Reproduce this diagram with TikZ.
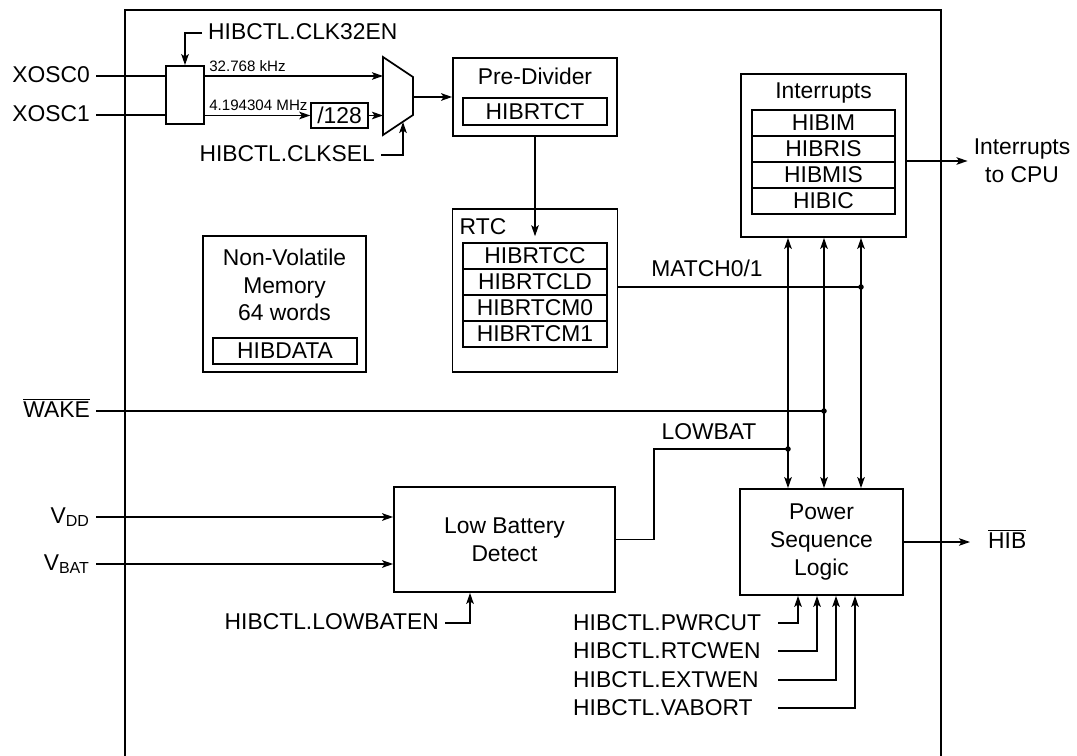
\documentclass[tikz,border=0pt]{standalone}
\usepackage{fontspec}
\setmainfont{Liberation Sans}
\usetikzlibrary{arrows.meta}
\tikzset{
  blk/.style={draw, line width=1pt, align=center, inner sep=0pt},
  reg/.style={draw, line width=0.8pt, minimum width=2.88cm, minimum height=0.52cm, inner sep=0pt},
  lbl/.style={align=center, text height=1.8ex, text depth=0.5ex},
  freq/.style={font=\fontsize{8.6}{10}\selectfont, inner sep=2pt},
  wire/.style={line width=1pt},
  sig/.style={-{Stealth[length=2.2mm, width=1.5mm, inset=0.5mm]}, line width=1pt},
  bidir/.style={{Stealth[length=2.2mm, width=1.5mm, inset=0.5mm]}-{Stealth[length=2.2mm, width=1.5mm, inset=0.5mm]}, line width=1pt}
}

\begin{document}
\begin{tikzpicture}[x=0.02cm, y=-0.02cm, font=\fontsize{13}{15.8}\selectfont]
  \useasboundingbox (0,0) rectangle (1077,756);
  % hibernation module outline
  \draw[wire] (125,756) -- (125,10) -- (941,10) -- (941,756);

  % clock source
  \node[blk, minimum width=0.76cm, minimum height=1.16cm] (sel) at (185,95) {};
  \node[lbl, anchor=east] (xosc0) at (96,76) {XOSC0};
  \node[lbl, anchor=east] (xosc1) at (96,115) {XOSC1};
  \draw[wire] (xosc0.east) -- (xosc0.east -| sel.west);
  \draw[wire] (xosc1.east) -- (xosc1.east -| sel.west);
  \node[lbl, anchor=west] (clken) at (202,33) {HIBCTL.CLK32EN};
  \draw[sig] (clken.west) -| (sel.north);

  \node[blk, line width=0.8pt, minimum width=1.14cm, minimum height=0.5cm] (div) at (339.5,115.5) {/128};

  % clock mux
  \draw[wire] (383,57) -- (413,77) -- (413,115) -- (383,135) -- cycle;
  \coordinate (muxin0) at (383,76);
  \coordinate (muxin1) at (383,115.5);
  \coordinate (muxout) at (413,97);
  \coordinate (muxsel) at (403,122);

  \draw[sig] (sel.east |- muxin0) -- node[freq, anchor=south west, pos=0] {32.768 kHz} (muxin0);
  \draw[sig] (sel.east |- div.west) -- node[freq, anchor=south west, pos=0] {4.194304 MHz} (div.west);
  \draw[sig] (div.east) -- (muxin1);
  \node[lbl, anchor=east] (clksel) at (381,155) {HIBCTL.CLKSEL};
  \draw[sig] (clksel.east) -| (muxsel);

  % pre-divider
  \node[blk, minimum width=3.28cm, minimum height=1.56cm] (pre) at (535,97) {};
  \node[lbl] (pretitle) at (535,78) {Pre-Divider};
  \node[reg, minimum height=0.54cm] (rtct) at (535,111.5) {HIBRTCT};
  \draw[sig] (muxout) -- (muxout -| pre.west);

  % RTC
  \node[blk, minimum width=3.3cm, minimum height=3.26cm] (rtc) at (535,290.5) {};
  \node[lbl] (rtctitle) at (483,228) {RTC};
  \node[reg] (rtcc) at (535,256) {HIBRTCC};
  \node[reg] (rtcld) at (535,282) {HIBRTCLD};
  \node[reg] (rtcm0) at (535,308) {HIBRTCM0};
  \node[reg] (rtcm1) at (535,334) {HIBRTCM1};
  \draw[sig] (pre.south) -- ([yshift=0.12cm]rtcc.north);

  % battery-backed memory
  \node[blk, minimum width=3.26cm, minimum height=2.72cm] (nvm) at (284.5,304) {};
  \node[align=center] (nvmtxt) at (284.5,285) {Non-Volatile\\Memory\\64 words};
  \node[reg] (hibdata) at (285,351) {HIBDATA};

  % interrupts
  \node[blk, minimum width=3.3cm, minimum height=3.26cm] (intr) at (823.5,155.5) {};
  \node[lbl] (intrtitle) at (823.5,92) {Interrupts};
  \node[reg, minimum width=2.86cm] (him) at (823.5,123) {HIBIM};
  \node[reg, minimum width=2.86cm] (hris) at (823.5,149) {HIBRIS};
  \node[reg, minimum width=2.86cm] (hmis) at (823.5,175) {HIBMIS};
  \node[reg, minimum width=2.86cm] (hic) at (823.5,201) {HIBIC};
  \node[align=center] (cpu) at (1022,161) {Interrupts\\to CPU};
  \draw[sig] (cpu.west -| intr.east) -- (cpu.west);

  % low battery detect
  \node[blk, minimum width=4.42cm, minimum height=2.1cm] (lbd) at (504.5,539.5) {Low Battery\\Detect};
  \node[lbl, anchor=east] (vdd) at (96,517) {V\textsubscript{DD}};
  \node[lbl, anchor=east] (vbat) at (96,564) {V\textsubscript{BAT}};
  \draw[sig] (vdd.east) -- (vdd.east -| lbd.west);
  \draw[sig] (vbat.east) -- (vbat.east -| lbd.west);
  \node[lbl, anchor=east] (lowen) at (445,623) {HIBCTL.LOWBATEN};
  \draw[sig] (lowen.east) -| ([xshift=-0.69cm]lbd.south);

  % power sequencer
  \node[blk, minimum width=3.26cm, minimum height=2.12cm] (psl) at (821.5,542) {Power\\Sequence\\Logic};
  \node[lbl, anchor=west] (hib) at (982,542) {$\overline{\hbox{HIB}}$};
  \draw[sig] (psl.east) -- ([xshift=-0.24cm]hib.west);

  % event taps
  \coordinate (mt) at (861,287);
  \coordinate (wk) at (824,411);
  \coordinate (lb) at (788,449);
  \draw[bidir] (lb |- intr.south) -- (lb |- psl.north);
  \draw[bidir] (wk |- intr.south) -- (wk |- psl.north);
  \draw[bidir] (mt |- intr.south) -- (mt |- psl.north);

  \node[lbl] (matchlbl) at (707,270) {MATCH0/1};
  \draw[wire] (rtc.east |- mt) -- (mt);
  \node[lbl, anchor=east] (wake) at (96,411) {$\overline{\hbox{WAKE}}$};
  \draw[wire] (wake.east) -- (wk);
  \node[lbl] (lowlbl) at (709,433) {LOWBAT};
  \draw[wire] (lbd.east) -- ++(38,0) |- (lb);
  \fill (mt) circle (0.055cm);
  \fill (wk) circle (0.055cm);
  \fill (lb) circle (0.055cm);

  % control bits into the sequencer
  \node[lbl, anchor=west] (pwrcut) at (567,624) {HIBCTL.PWRCUT};
  \node[lbl, anchor=west] (rtcwen) at (567,652) {HIBCTL.RTCWEN};
  \node[lbl, anchor=west] (extwen) at (567,681) {HIBCTL.EXTWEN};
  \node[lbl, anchor=west] (vabort) at (567,709) {HIBCTL.VABORT};
  \coordinate (pwrcutin) at (778,623);
  \coordinate (rtcwenin) at (778,651);
  \coordinate (extwenin) at (778,680);
  \coordinate (vabortin) at (778,708);
  \draw[sig] (pwrcutin) -| ([xshift=-0.47cm]psl.south);
  \draw[sig] (rtcwenin) -| ([xshift=-0.09cm]psl.south);
  \draw[sig] (extwenin) -| ([xshift=0.29cm]psl.south);
  \draw[sig] (vabortin) -| ([xshift=0.67cm]psl.south);
\end{tikzpicture}
\end{document}
